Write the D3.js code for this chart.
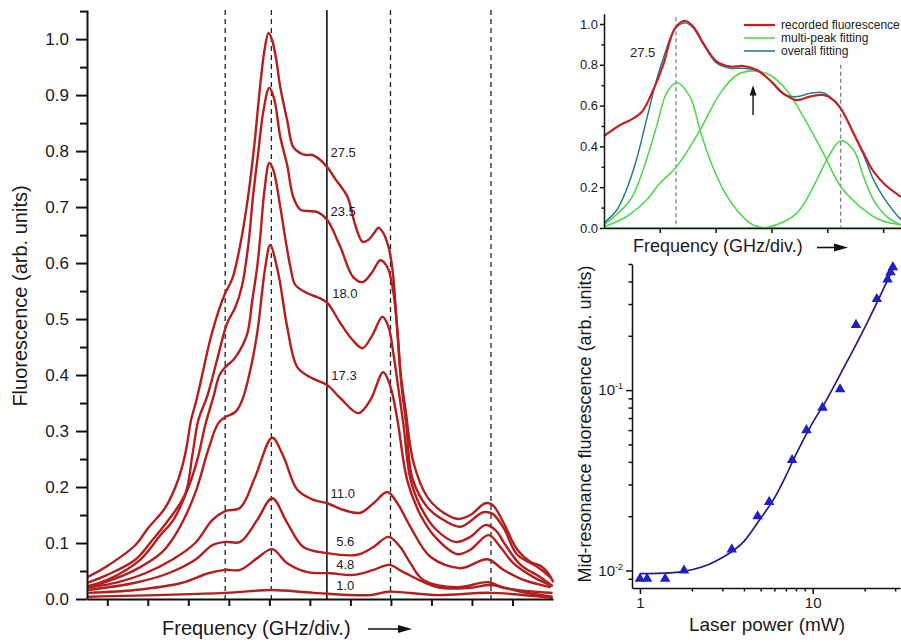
<!DOCTYPE html>
<html>
<head>
<meta charset="utf-8">
<script src="https://cdn.jsdelivr.net/npm/d3@7"></script>
<style>
  body { margin: 0; background: #fff; }
</style>
</head>
<body>
<svg id="fig" width="901" height="642"></svg>
<script>
const FONT = '"Liberation Sans", Arial, sans-serif'

// ---------- main panel: spectra at several laser powers (mW) ----------
// x = frequency in divisions, y = fluorescence (arb. units)
const powers = ['27.5', '23.5', '18.0', '17.3', '11.0', '5.6', '4.8', '1.0']

const spec27_5 = [[-0.49,0.039],[0,0.059],[0.69,0.096],[1.01,0.127],[1.43,0.163],[1.75,0.213],[1.93,0.261],[2.07,0.320],[2.20,0.355],[2.37,0.409],[2.54,0.463],[2.74,0.513],[2.91,0.546],[3.09,0.573],[3.28,0.632],[3.48,0.721],[3.63,0.811],[3.75,0.900],[3.88,0.980],[3.98,1.011],[4.07,0.998],[4.17,0.963],[4.27,0.914],[4.44,0.855],[4.59,0.807],[4.77,0.796],[4.89,0.793],[5.06,0.793],[5.26,0.784],[5.43,0.771],[5.63,0.750],[5.93,0.718],[6.12,0.668],[6.30,0.638],[6.44,0.641],[6.59,0.654],[6.69,0.663],[6.81,0.654],[6.94,0.629],[7.04,0.588],[7.14,0.498],[7.23,0.409],[7.36,0.339],[7.56,0.243],[7.90,0.182],[8.30,0.154],[8.67,0.143],[8.96,0.150],[9.33,0.171],[9.51,0.168],[9.78,0.136],[10.12,0.088],[10.45,0.066],[10.70,0.059],[10.86,0.048],[11.01,0.030]]
const spec23_5 = [[-0.49,0.029],[0,0.043],[0.69,0.070],[1.11,0.105],[1.51,0.141],[1.93,0.189],[2.10,0.257],[2.25,0.320],[2.47,0.363],[2.72,0.430],[2.96,0.493],[3.16,0.521],[3.33,0.561],[3.48,0.632],[3.60,0.721],[3.73,0.800],[3.85,0.870],[4.00,0.913],[4.12,0.893],[4.27,0.825],[4.44,0.775],[4.59,0.718],[4.77,0.695],[4.96,0.693],[5.19,0.691],[5.43,0.677],[5.75,0.629],[6.07,0.575],[6.30,0.566],[6.54,0.584],[6.74,0.605],[6.91,0.593],[7.04,0.557],[7.16,0.480],[7.26,0.382],[7.38,0.311],[7.53,0.216],[7.90,0.164],[8.30,0.141],[8.72,0.129],[9.28,0.155],[9.51,0.152],[9.78,0.127],[10.12,0.079],[10.62,0.057],[10.94,0.038]]
const spec18_0 = [[-0.49,0.023],[0,0.034],[0.81,0.070],[1.31,0.114],[1.63,0.141],[1.98,0.195],[2.22,0.248],[2.42,0.311],[2.62,0.361],[2.77,0.400],[2.91,0.414],[3.11,0.427],[3.28,0.445],[3.46,0.475],[3.58,0.534],[3.70,0.593],[3.78,0.650],[3.88,0.730],[4.00,0.779],[4.10,0.766],[4.27,0.700],[4.40,0.641],[4.52,0.593],[4.64,0.561],[4.94,0.546],[5.19,0.539],[5.43,0.529],[5.75,0.493],[6.05,0.463],[6.30,0.448],[6.54,0.471],[6.79,0.504],[6.94,0.486],[7.06,0.439],[7.19,0.373],[7.31,0.311],[7.48,0.215],[7.73,0.165],[8.10,0.125],[8.59,0.102],[8.96,0.111],[9.33,0.132],[9.58,0.123],[9.83,0.096],[10.20,0.061],[10.69,0.039],[10.99,0.023]]
const spec17_3 = [[-0.49,0.021],[-0.05,0.030],[0.69,0.052],[1.36,0.084],[1.75,0.123],[2.17,0.189],[2.49,0.266],[2.74,0.314],[2.91,0.325],[3.16,0.334],[3.33,0.355],[3.53,0.409],[3.70,0.475],[3.90,0.593],[4.02,0.632],[4.22,0.582],[4.44,0.486],[4.69,0.414],[5.01,0.396],[5.43,0.382],[5.75,0.359],[6.20,0.332],[6.49,0.355],[6.81,0.405],[6.99,0.379],[7.16,0.320],[7.41,0.210],[7.73,0.150],[8.10,0.110],[8.64,0.080],[8.96,0.088],[9.41,0.114],[9.70,0.093],[10.02,0.064],[10.52,0.039],[10.99,0.023]]
const spec11_0 = [[-0.47,0.020],[0.27,0.030],[0.94,0.046],[1.60,0.070],[2.17,0.100],[2.59,0.141],[2.91,0.157],[3.28,0.163],[3.65,0.218],[4.07,0.288],[4.35,0.254],[4.69,0.195],[5.09,0.177],[5.43,0.171],[5.83,0.159],[6.25,0.154],[6.57,0.171],[6.91,0.191],[7.16,0.171],[7.48,0.129],[7.98,0.075],[8.72,0.055],[9.38,0.071],[9.78,0.052],[10.27,0.034],[10.94,0.021]]
const spec5_6 = [[-0.47,0.016],[0.69,0.029],[1.51,0.046],[2.17,0.070],[2.59,0.096],[2.91,0.102],[3.28,0.102],[3.70,0.141],[4.07,0.180],[4.44,0.136],[4.84,0.093],[5.43,0.082],[6.17,0.079],[6.57,0.093],[6.94,0.111],[7.23,0.093],[7.48,0.064],[7.80,0.034],[8.64,0.021],[9.41,0.030],[9.78,0.020],[10.99,0.011]]
const spec4_8 = [[-0.47,0.011],[0.69,0.016],[1.85,0.029],[2.49,0.046],[2.91,0.052],[3.28,0.052],[3.70,0.073],[4.07,0.089],[4.44,0.064],[4.94,0.048],[5.51,0.046],[6.07,0.043],[6.57,0.052],[6.96,0.061],[7.31,0.048],[8.15,0.021],[8.96,0.020],[9.46,0.025],[10.20,0.013],[10.99,0.004]]
const spec1_0 = [[-0.47,0.004],[2.91,0.011],[4.07,0.016],[5.09,0.011],[6.49,0.007],[6.94,0.013],[8.15,0.007],[9.46,0.011],[10.99,0.002]]

const spectra = [spec27_5, spec23_5, spec18_0, spec17_3, spec11_0, spec5_6, spec4_8, spec1_0]
const resonanceLines = [2.91, 4.05, 6.99, 9.47]  // dashed markers
const midResonance = [5.42]                       // solid marker

// ---------- upper inset: multi-peak fit of the 27.5 mW spectrum ----------
const recorded = [[0,0.451],[0.29,0.505],[0.47,0.529],[0.68,0.570],[0.88,0.676],[1.06,0.800],[1.27,0.979],[1.45,1.016],[1.60,0.987],[1.78,0.905],[2.02,0.815],[2.26,0.791],[2.50,0.794],[2.74,0.775],[2.97,0.725],[3.21,0.660],[3.45,0.627],[3.69,0.644],[3.93,0.652],[4.11,0.627],[4.26,0.578],[4.47,0.464],[4.65,0.366],[4.83,0.276],[5.04,0.211],[5.32,0.153]]
const overall = [[0,0.025],[0.23,0.088],[0.40,0.186],[0.58,0.333],[0.76,0.529],[0.94,0.725],[1.06,0.830],[1.27,0.975],[1.45,1.006],[1.60,0.980],[1.78,0.900],[2.02,0.808],[2.26,0.783],[2.50,0.783],[2.74,0.770],[2.97,0.725],[3.21,0.657],[3.45,0.644],[3.69,0.660],[3.93,0.663],[4.11,0.627],[4.26,0.578],[4.47,0.464],[4.65,0.358],[4.83,0.235],[5.04,0.137],[5.32,0.039]]
const peak1 = [[0,0.015],[0.47,0.137],[0.70,0.284],[0.94,0.497],[1.12,0.660],[1.30,0.712],[1.54,0.644],[1.72,0.480],[1.90,0.333],[2.14,0.186],[2.38,0.088],[2.62,0.023],[2.83,0.002],[3.10,0]]
const peak2 = [[0,0.006],[0.40,0.055],[0.76,0.137],[1.00,0.219],[1.30,0.300],[1.72,0.480],[2.08,0.660],[2.38,0.750],[2.68,0.770],[2.97,0.750],[3.27,0.676],[3.57,0.546],[3.93,0.366],[4.24,0.203],[4.59,0.104],[4.95,0.039],[5.32,0.015]]
const peak3 = [[2.60,0],[2.97,0.006],[3.45,0.072],[3.81,0.235],[4.02,0.350],[4.24,0.428],[4.47,0.382],[4.65,0.251],[4.83,0.137],[5.07,0.055],[5.32,0.015]]
const fitLines = [1.29, 4.24]
const fitLineTop = [1.033, 0.80]
const legendNames = ['recorded fluorescence', 'multi-peak fitting', 'overall fitting']

// ---------- lower inset: mid-resonance fluorescence vs laser power ----------
const powerMw = [1.0, 1.1, 1.4, 1.8, 3.4, 4.8, 5.6, 7.6, 9.2, 11.4, 14.4, 17.8, 23.5, 27.1, 28.2, 29.1]
const midFluor = [0.0090, 0.0090, 0.0090, 0.0100, 0.0131, 0.0200, 0.0240, 0.0410, 0.0600, 0.0800, 0.1010, 0.230, 0.320, 0.410, 0.450, 0.480]
const fitPower = [1, 1.5, 2, 2.5, 3, 4, 5, 6, 7, 8, 10, 12, 15, 20, 25, 29.4]
const fitFluor = [0.0096, 0.0097, 0.0101, 0.0108, 0.0118, 0.0145, 0.0195, 0.0252, 0.0335, 0.0440, 0.066, 0.088, 0.131, 0.222, 0.345, 0.480]

const RED = '#b31e1e'
const svg = d3.select('#fig')

function styleAxis(g, size, w) {
  g.attr('font-family', FONT).attr('font-size', size)
  g.select('.domain').attr('stroke', '#111').attr('stroke-width', w)
  g.selectAll('.tick line').attr('stroke', '#111').attr('stroke-width', w)
  g.selectAll('.tick text').attr('fill', '#1a1a1a')
}

function arrowRight(g, x0, x1, y) {
  g.append('line').attr('x1', x0).attr('x2', x1 - 10).attr('y1', y).attr('y2', y)
    .attr('stroke', '#111').attr('stroke-width', 1.6)
  g.append('path').attr('d', `M${x1},${y} L${x1 - 14},${y - 4} L${x1 - 14},${y + 4} Z`).attr('fill', '#111')
}

function drawMain() {
  const x = d3.scaleLinear().domain([-0.5, 11]).range([87, 553])
  const y = d3.scaleLinear().domain([0, 1.052]).range([599, 10])
  const g = svg.append('g')

  g.selectAll('line.res').data(resonanceLines).join('line')
    .attr('x1', d => x(d)).attr('x2', d => x(d))
    .attr('y1', y(1.052)).attr('y2', y(0))
    .attr('stroke', '#222').attr('stroke-width', 1.3).attr('stroke-dasharray', '5,4')
  g.selectAll('line.mid').data(midResonance).join('line')
    .attr('x1', d => x(d)).attr('x2', d => x(d))
    .attr('y1', y(1.052)).attr('y2', y(0))
    .attr('stroke', '#111').attr('stroke-width', 1.6)

  const line = d3.line().x(d => x(d[0])).y(d => y(d[1])).curve(d3.curveCatmullRom.alpha(0.5))
  g.selectAll('path.spec').data(spectra).join('path')
    .attr('d', line).attr('fill', 'none')
    .attr('stroke', RED).attr('stroke-width', 2.4)

  // power labels next to the solid marker
  const labelAt = [[5.51,0.789],[5.51,0.684],[5.55,0.537],[5.53,0.391],[5.51,0.180],[5.65,0.095],[5.65,0.054],[5.65,0.016]]
  g.selectAll('text.pw').data(powers).join('text')
    .attr('x', (d, i) => x(labelAt[i][0])).attr('y', (d, i) => y(labelAt[i][1]))
    .attr('font-family', FONT).attr('font-size', 13).attr('fill', '#222')
    .text(d => d)

  const yMajor = d3.range(0, 11).map(i => i / 10)
  const yMinor = d3.range(0, 11).map(i => i / 10 + 0.05)
  const ya = g.append('g').attr('transform', 'translate(87,0)')
    .call(d3.axisLeft(y).tickValues(yMajor).tickSize(11).tickPadding(7).tickSizeOuter(0).tickFormat(d3.format('.1f')))
  styleAxis(ya, 17, 2)
  const ym = g.append('g').attr('transform', 'translate(87,0)')
    .call(d3.axisLeft(y).tickValues(yMinor).tickSize(7).tickFormat(''))
  styleAxis(ym, 17, 2)
  ym.select('.domain').remove()

  const xa = g.append('g').attr('transform', 'translate(0,599)')
    .call(d3.axisBottom(x).tickValues(d3.range(0, 11)).tickSize(7).tickSizeOuter(0).tickFormat(''))
  styleAxis(xa, 17, 2)

  g.append('text').attr('transform', 'translate(27,296) rotate(-90)')
    .attr('text-anchor', 'middle').attr('font-family', FONT).attr('font-size', 20).attr('fill', '#1a1a1a')
    .text('Fluorescence (arb. units)')
  g.append('text').attr('x', 162).attr('y', 635)
    .attr('font-family', FONT).attr('font-size', 20).attr('fill', '#1a1a1a')
    .text('Frequency (GHz/div.)')
  arrowRight(g, 368, 412, 629)
}

function drawFit() {
  const x = d3.scaleLinear().domain([0, 5.32]).range([604, 901])
  const y = d3.scaleLinear().domain([0, 1.05]).range([228, 13.8])
  const g = svg.append('g')

  g.selectAll('line.fl').data(fitLines).join('line')
    .attr('x1', d => x(d)).attr('x2', d => x(d))
    .attr('y1', (d, i) => y(fitLineTop[i])).attr('y2', y(0))
    .attr('stroke', '#777').attr('stroke-width', 1.2).attr('stroke-dasharray', '4,3')

  const line = d3.line().x(d => x(d[0])).y(d => y(d[1])).curve(d3.curveCatmullRom.alpha(0.5))
  const greens = [peak1, peak2, peak3]
  g.selectAll('path.pk').data(greens).join('path')
    .attr('d', line).attr('fill', 'none').attr('stroke', '#4fd84f').attr('stroke-width', 1.6)
  g.append('line').attr('x1', x(0)).attr('x2', x(5.32)).attr('y1', y(0)).attr('y2', y(0))
    .attr('stroke', '#4fd84f').attr('stroke-width', 1.6)
  g.append('path').datum(overall).attr('d', line).attr('fill', 'none')
    .attr('stroke', '#2a7a8a').attr('stroke-width', 1.5)
  g.append('path').datum(recorded).attr('d', line).attr('fill', 'none')
    .attr('stroke', '#c42222').attr('stroke-width', 2.2)

  const ya = g.append('g').attr('transform', 'translate(604,0)')
    .call(d3.axisLeft(y).tickValues([0, 0.2, 0.4, 0.6, 0.8, 1.0]).tickSize(4).tickPadding(2).tickSizeOuter(0).tickFormat(d3.format('.1f')))
  styleAxis(ya, 13, 1.5)
  const ym = g.append('g').attr('transform', 'translate(604,0)')
    .call(d3.axisLeft(y).tickValues([0.1, 0.3, 0.5, 0.7, 0.9]).tickSize(2.5).tickFormat(''))
  styleAxis(ym, 13, 1.5)
  ym.select('.domain').remove()
  const xa = g.append('g').attr('transform', 'translate(0,228)')
    .call(d3.axisBottom(x).tickValues([1, 2, 3, 4, 5]).tickSize(5).tickSizeOuter(0).tickFormat(''))
  styleAxis(xa, 13, 1.5)

  // arrow marking mid-resonance
  const ax = x(2.67)
  g.append('line').attr('x1', ax).attr('x2', ax).attr('y1', y(0.554)).attr('y2', y(0.67))
    .attr('stroke', '#111').attr('stroke-width', 1.4)
  g.append('path').attr('d', `M${ax},${y(0.70)} L${ax - 3.5},${y(0.65)} L${ax + 3.5},${y(0.65)} Z`).attr('fill', '#111')

  g.append('text').attr('x', 630).attr('y', 57).attr('font-family', FONT).attr('font-size', 13)
    .attr('fill', '#222').text('27.5')

  const legColors = ['#c42222', '#4fd84f', '#2a7a8a']
  const leg = g.selectAll('g.leg').data(legendNames).join('g')
    .attr('transform', (d, i) => `translate(744,${25 + i * 13})`)
  leg.append('line').attr('x1', 0).attr('x2', 31).attr('stroke', (d, i) => legColors[i])
    .attr('stroke-width', (d, i) => i === 0 ? 2.2 : 1.6)
  leg.append('text').attr('x', 37).attr('y', 4).attr('font-family', FONT).attr('font-size', 12)
    .attr('fill', '#222').text(d => d)

  g.append('text').attr('x', 633).attr('y', 252).attr('font-family', FONT).attr('font-size', 18)
    .attr('fill', '#1a1a1a').text('Frequency (GHz/div.)')
  arrowRight(g, 817, 848, 247.5)
}

function drawPower() {
  const x = d3.scaleLog().domain([0.9, 32]).range([632, 900])
  const y = d3.scaleLog().domain([0.008, 0.5]).range([588, 264])
  const g = svg.append('g')

  const fitData = fitPower.map((p, i) => [p, fitFluor[i]])
  g.append('path').datum(fitData)
    .attr('d', d3.line().x(d => x(d[0])).y(d => y(d[1])).curve(d3.curveMonotoneX))
    .attr('fill', 'none').attr('stroke', '#1c1c8c').attr('stroke-width', 1.7)

  const tri = d3.symbol(d3.symbolTriangle).size(48)
  g.selectAll('path.pt').data(powerMw).join('path')
    .attr('d', tri).attr('transform', (d, i) => `translate(${x(d)},${y(midFluor[i])})`)
    .attr('fill', '#1f1fc8')

  const xa = g.append('g').attr('transform', 'translate(0,588)')
    .call(d3.axisBottom(x).tickValues([1, 10]).tickSize(6).tickPadding(3).tickSizeOuter(0).tickFormat(d3.format('d')))
  styleAxis(xa, 15, 1.5)
  const xm = g.append('g').attr('transform', 'translate(0,588)')
    .call(d3.axisBottom(x).tickValues([2, 3, 4, 5, 6, 7, 8, 9, 20, 30]).tickSize(3.5).tickFormat(''))
  styleAxis(xm, 15, 1.5)
  xm.select('.domain').remove()

  const ya = g.append('g').attr('transform', 'translate(632,0)')
    .call(d3.axisLeft(y).tickValues([0.01, 0.1]).tickSize(6).tickPadding(3).tickSizeOuter(0).tickFormat(''))
  styleAxis(ya, 15, 1.5)
  ya.selectAll('.tick text').each(function (d) {
    const t = d3.select(this)
    t.text('10')
    t.append('tspan').attr('dy', -6).attr('font-size', 9).text(Math.round(Math.log10(d)))
  })
  const ym = g.append('g').attr('transform', 'translate(632,0)')
    .call(d3.axisLeft(y).tickValues([0.009, 0.02, 0.03, 0.04, 0.05, 0.06, 0.07, 0.08, 0.09, 0.2, 0.3, 0.4, 0.5]).tickSize(3.5).tickFormat(''))
  styleAxis(ym, 15, 1.5)
  ym.select('.domain').remove()

  g.append('text').attr('transform', 'translate(591,424) rotate(-90)')
    .attr('text-anchor', 'middle').attr('font-family', FONT).attr('font-size', 18).attr('fill', '#1a1a1a')
    .text('Mid-resonance fluorescence (arb. units)')
  g.append('text').attr('x', 767).attr('y', 631).attr('text-anchor', 'middle')
    .attr('font-family', FONT).attr('font-size', 19).attr('fill', '#1a1a1a')
    .text('Laser power (mW)')
}

drawMain()
drawFit()
drawPower()
</script>
</body>
</html>
